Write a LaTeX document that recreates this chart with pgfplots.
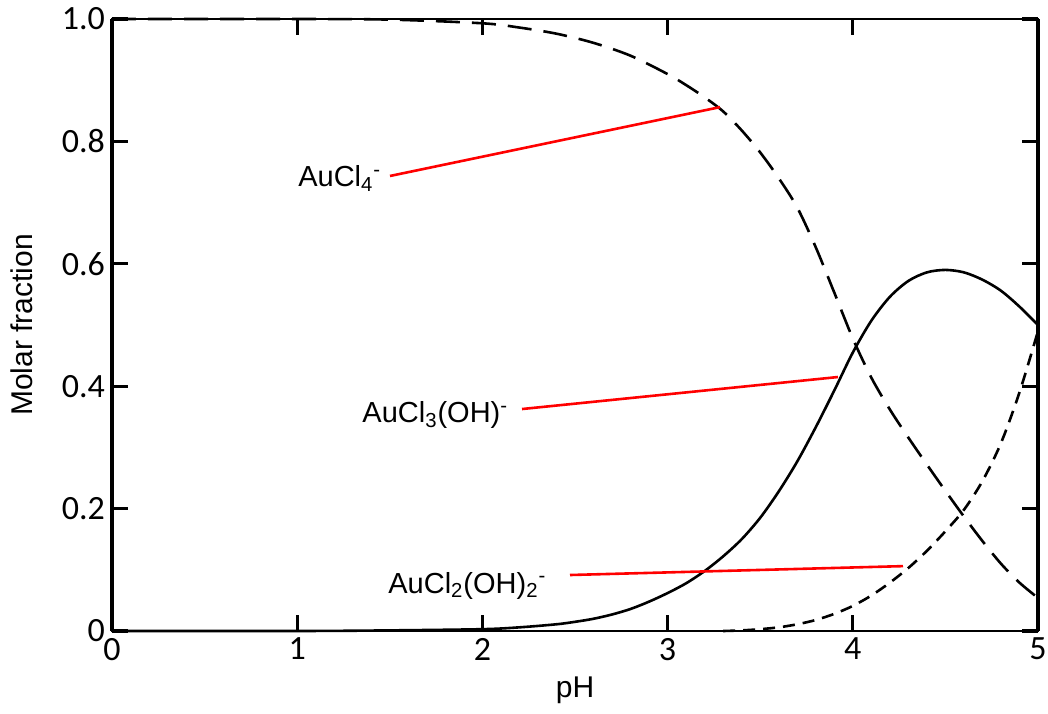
\documentclass[border=0pt]{standalone}
\usepackage{pgfplots}
\pgfplotsset{compat=1.18}
\usepackage{fontspec}
\setmainfont{Liberation Sans}
\newfontfamily\tickfont{Carlito}

\begin{document}
\begin{tikzpicture}
\begin{axis}[
  name=ax,
  scale only axis,
  width=463pt, height=306pt,
  xmin=0, xmax=5, ymin=0, ymax=1,
  xtick={0,1,2,3,4,5},
  xticklabels={0,1,2,3,4,5},
  ytick={0,0.2,0.4,0.6,0.8,1.0},
  yticklabels={0,0.2,0.4,0.6,0.8,1.0},
  tick label style={font=\fontsize{17}{20}\tickfont},
  tick align=inside,
  major tick length=8pt,
  tick style={black, line width=1.6pt},
  axis line style={line width=1.3pt},
  clip=false,
  xlabel={pH}, ylabel={Molar fraction},
  label style={font=\fontsize{15}{18}\selectfont},
  xlabel style={at={(axis description cs:0.5,-0.0964)}, anchor=center},
  ylabel style={at={(axis description cs:-0.0972,0.5)}, anchor=center},
]
% thicker vertical spines
\draw[line width=2.4pt] (rel axis cs:0,0) -- (rel axis cs:0,1);
\draw[line width=2.2pt] (rel axis cs:1,0) -- (rel axis cs:1,1);

% AuCl4-
\addplot[black, line width=1.3pt, dash pattern=on 12pt off 6pt, smooth] coordinates {
(0,1.0) (0.5,1.0) (1.0,1.0) (1.5,0.999) (2.0,0.993) (2.2,0.986) (2.4,0.976)
(2.6,0.961) (2.8,0.94) (3.0,0.91) (3.1,0.892) (3.2,0.872) (3.3,0.849)
(3.4,0.818) (3.5,0.782) (3.6,0.74) (3.7,0.692) (3.8,0.627) (3.9,0.553)
(4.0,0.478) (4.1,0.414) (4.2,0.362) (4.3,0.316) (4.4,0.272) (4.5,0.229)
(4.6,0.187) (4.7,0.147) (4.8,0.11) (4.9,0.079) (5.0,0.054)};

% AuCl3(OH)-
\addplot[black, line width=1.3pt, smooth] coordinates {
(0,0) (1.0,0) (1.5,0.001) (2.0,0.003) (2.2,0.006) (2.4,0.011) (2.5,0.015)
(2.6,0.02) (2.7,0.027) (2.8,0.036) (2.9,0.048) (3.0,0.062) (3.1,0.078)
(3.2,0.098) (3.3,0.122) (3.4,0.15) (3.5,0.185) (3.6,0.228) (3.7,0.277)
(3.8,0.333) (3.9,0.393) (4.0,0.455) (4.1,0.507) (4.2,0.546) (4.3,0.572)
(4.4,0.586) (4.5,0.59) (4.6,0.586) (4.7,0.574) (4.8,0.556) (4.9,0.53) (5.0,0.5)};

% AuCl2(OH)2-
\addplot[black, line width=1.3pt, dash pattern=on 6pt off 4pt, smooth] coordinates {
(3.3,0) (3.4,0.001) (3.5,0.003) (3.6,0.006) (3.7,0.011) (3.8,0.018)
(3.9,0.028) (4.0,0.041) (4.1,0.058) (4.2,0.079) (4.3,0.103) (4.4,0.131)
(4.5,0.163) (4.6,0.198) (4.7,0.245) (4.8,0.307) (4.9,0.39) (5.0,0.49)};

% leader lines
\addplot[red, line width=1.3pt] coordinates {(1.501,0.7435) (3.283,0.856)};
\addplot[red, line width=1.3pt] coordinates {(2.214,0.3627) (3.92,0.415)};
\addplot[red, line width=1.3pt] coordinates {(2.473,0.0915) (4.271,0.106)};

% species labels
\node[anchor=base west, inner sep=0pt, font=\fontsize{14.5}{17}\selectfont]
  at (axis cs:1.004,0.7255) {AuCl\textsubscript{4}\textsuperscript{-}};
\node[anchor=base west, inner sep=0pt, font=\fontsize{14.5}{17}\selectfont]
  at (axis cs:1.35,0.34) {AuCl\textsubscript{3}(OH)\textsuperscript{-}};
\node[anchor=base west, inner sep=0pt, font=\fontsize{14.5}{17}\selectfont]
  at (axis cs:1.49,0.062) {AuCl\textsubscript{2}(OH)\textsubscript{2}\textsuperscript{-}};
\end{axis}
\pgfresetboundingbox
\path ([xshift=-56pt,yshift=-41pt]ax.south west) rectangle ([xshift=5pt,yshift=9.5pt]ax.north east);
\end{tikzpicture}
\end{document}
